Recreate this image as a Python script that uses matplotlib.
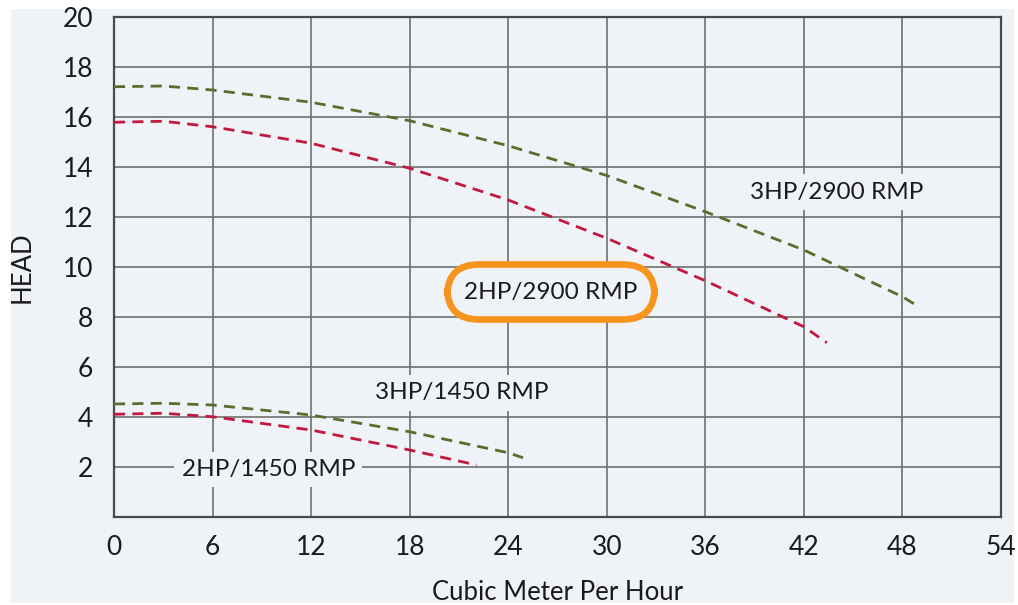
import matplotlib
matplotlib.use("Agg")
import matplotlib.pyplot as plt
from matplotlib.patches import Rectangle

plt.rcParams['font.family'] = ['Lato', 'DejaVu Sans']
plt.rcParams['font.size'] = 16

# flow (m3/h) and head readings for the four pump curves
q_3hp_2900 = [0, 3, 6, 12, 18, 24, 30, 36, 42, 48, 48.75]
h_3hp_2900 = [17.21, 17.24, 17.08, 16.59, 15.85, 14.85, 13.66, 12.21, 10.68, 8.81, 8.51]

q_2hp_2900 = [0, 3, 6, 12, 18, 24, 30, 36, 42, 43.4]
h_2hp_2900 = [15.79, 15.83, 15.61, 14.95, 13.95, 12.68, 11.15, 9.45, 7.61, 6.97]

q_3hp_1450 = [0, 3, 6, 12, 18, 24, 24.9]
h_3hp_1450 = [4.52, 4.55, 4.48, 4.08, 3.41, 2.57, 2.37]

q_2hp_1450 = [0, 3, 6, 12, 18, 22.07]
h_2hp_1450 = [4.11, 4.15, 4.01, 3.48, 2.68, 2.08]

labels = ["3HP/2900 RMP", "2HP/2900 RMP", "3HP/1450 RMP", "2HP/1450 RMP"]
label_pos = [(44.0, 13.0), (26.6, 9.0), (21.2, 4.96), (9.4, 1.9)]

x_ticks = list(range(0, 55, 6))
y_ticks = list(range(2, 21, 2))

bg = '#eff3f7'
green = '#5d6b2c'
red = '#c0183f'
orange = '#f7941d'

fig = plt.figure(figsize=(10.18, 6.05), dpi=100)
fig.patch.set_facecolor('white')
fig.patches.append(Rectangle((11/1018, 2/605), 1003/1018, 594/605,
                             transform=fig.transFigure, facecolor=bg,
                             edgecolor='none', zorder=-10))

ax = fig.add_axes([114/1018, 1-517/605, 887/1018, 500/605])
ax.set_facecolor(bg)
ax.set_xlim(0, 54)
ax.set_ylim(0, 20)
ax.set_xticks(x_ticks)
ax.set_yticks(y_ticks)
ax.grid(True, color='#6f6f6f', lw=1.2, zorder=0)
ax.set_axisbelow(True)
ax.tick_params(length=0, labelsize=19, colors='#1a1a1a')
ax.tick_params(axis='y', pad=15)
ax.tick_params(axis='x', pad=13)
for s in ax.spines.values():
    s.set_color('#4a4a4a')
    s.set_linewidth(1.6)

dash = (0, (4, 2.6))
ax.plot(q_3hp_2900, h_3hp_2900, color=green, lw=2, linestyle=dash, zorder=3)
ax.plot(q_2hp_2900, h_2hp_2900, color=red, lw=2, linestyle=dash, zorder=3)
ax.plot(q_3hp_1450, h_3hp_1450, color=green, lw=2, linestyle=dash, zorder=3)
ax.plot(q_2hp_1450, h_2hp_1450, color=red, lw=2, linestyle=dash, zorder=3)

for i, (lab, (x, y)) in enumerate(zip(labels, label_pos)):
    if i == 1:
        box = dict(boxstyle='round,pad=0.7,rounding_size=1.3',
                   facecolor=bg, edgecolor=orange, lw=4.8)
    else:
        box = dict(boxstyle='square,pad=0.3', facecolor=bg, edgecolor='none')
    ax.text(x, y, lab, ha='center', va='center', fontsize=17.5,
            color='#1a1a1a', bbox=box, zorder=4)

ax.set_ylabel("HEAD", fontsize=18.5, color='#1a1a1a', labelpad=20)
ax.set_xlabel("Cubic Meter Per Hour", fontsize=18.5, color='#1a1a1a', labelpad=14)

fig.savefig('out.png', dpi=100)
